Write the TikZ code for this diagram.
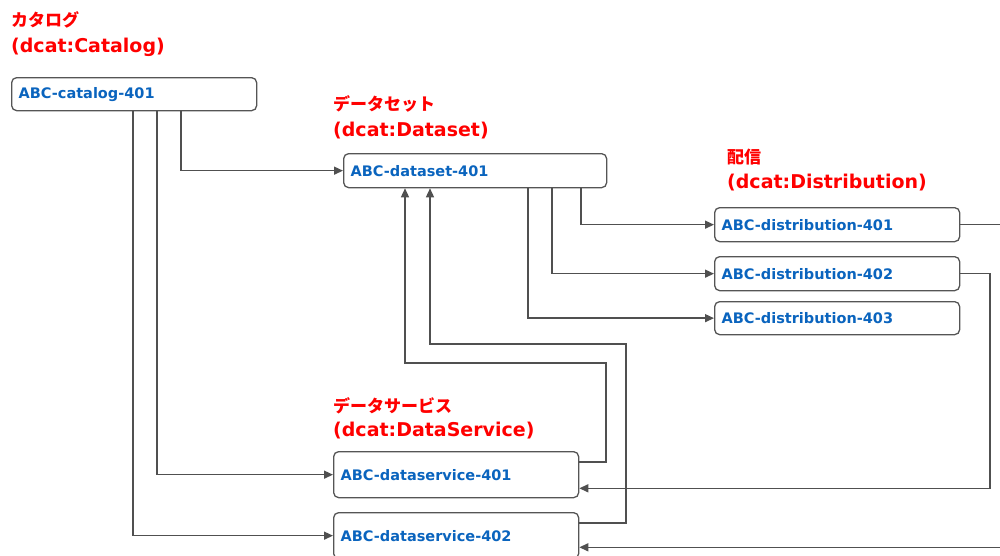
\documentclass[tikz,border=0pt]{standalone}
\usepackage{fontspec}
\setmainfont{DejaVu Sans}
\newfontfamily\jp{Noto Sans CJK JP}
\usetikzlibrary{arrows.meta,calc}
\definecolor{lbl}{RGB}{255,0,0}
\definecolor{txt}{RGB}{10,100,190}
\definecolor{edge}{RGB}{85,85,85}
\definecolor{conncol}{RGB}{80,80,80}
\tikzset{
  box/.style={draw=edge, line width=1.3pt, rounded corners=5pt, fill=white,
    anchor=north west, inner xsep=7pt, inner ysep=0pt, align=left,
    font=\fontsize{14.5}{16}\selectfont\bfseries, text=txt},
  conn/.style={draw=conncol, line width=1.4pt, -{Triangle[length=9pt,width=8pt]}},
  plain/.style={draw=conncol, line width=1.4pt},
  jplbl/.style={anchor=west, inner sep=0pt, text=lbl, font=\jp\fontsize{17}{19}\selectfont\bfseries},
  enlbl/.style={anchor=west, inner sep=0pt, text=lbl, font=\fontsize{19}{21}\selectfont\bfseries},
}
\begin{document}
\begin{tikzpicture}[x=1pt,y=-1pt]
\useasboundingbox (0,0) rectangle (1000,555);
% labels
\node[jplbl] (l1a) at (11,20) {カタログ};
\node[enlbl] (l1b) at (11,47) {(dcat:Catalog)};
\node[jplbl] (l2a) at (333,104) {データセット};
\node[enlbl] (l2b) at (333,131) {(dcat:Dataset)};
\node[jplbl] (l3a) at (727,157) {配信};
\node[enlbl] (l3b) at (727,183) {(dcat:Distribution)};
\node[jplbl] (l4a) at (333,406) {データサービス};
\node[enlbl] (l4b) at (333,431) {(dcat:DataService)};
% boxes
\node[box, text width=231pt, minimum height=33pt] (cat) at (11,77) {ABC-catalog-401};
\node[box, text width=249pt, minimum height=34pt] (ds) at (343,153) {ABC-dataset-401};
\node[box, text width=231pt, minimum height=34pt] (d1) at (714,207) {ABC-distribution-401};
\node[box, text width=231pt, minimum height=34pt] (d2) at (714,256) {ABC-distribution-402};
\node[box, text width=231pt, minimum height=33pt] (d3) at (714,301) {ABC-distribution-403};
\node[box, text width=231pt, minimum height=46pt] (sv1) at (333,451) {ABC-dataservice-401};
\node[box, text width=231pt, minimum height=46pt] (sv2) at (333,512) {ABC-dataservice-402};
% helper coordinates
\coordinate (x181) at (181,0);
\coordinate (x157) at (157,0);
\coordinate (x133) at (133,0);
\coordinate (x581) at (581,0);
\coordinate (x552) at (552,0);
\coordinate (x528) at (528,0);
\coordinate (x405) at (405,0);
\coordinate (x430) at (430,0);
\coordinate (x990) at (990,0);
\coordinate (xr) at (1000,0);
\coordinate (sv1out) at ($(sv1.north east)+(0,11)$);
\coordinate (sv2out) at ($(sv2.north east)+(0,11)$);
\coordinate (sv1in) at ($(sv1.south east)+(0,-10)$);
\coordinate (sv2in) at ($(sv2.south east)+(0,-12)$);
% catalog connectors
\draw[conn] (cat.south -| x181) |- (ds.west);
\draw[conn] (cat.south -| x157) |- (sv1.west);
\draw[conn] (cat.south -| x133) |- (sv2.west);
% dataset to distributions
\draw[conn] (ds.south -| x581) |- (d1.west);
\draw[conn] (ds.south -| x552) |- (d2.west);
\draw[conn] (ds.south -| x528) |- (d3.west);
% dataservices to dataset
\draw[conn] (sv1out) -| (606,363) -| (ds.south -| x405);
\draw[conn] (sv2out) -| (626,344) -| (ds.south -| x430);
% distributions to dataservices
\draw[plain] (d1.east) -- (d1.east -| xr);
\draw[conn] (d2.east) -| (sv1in -| x990) -- (sv1in);
\draw[conn] (sv2in -| xr) -- (sv2in);
\end{tikzpicture}
\end{document}
